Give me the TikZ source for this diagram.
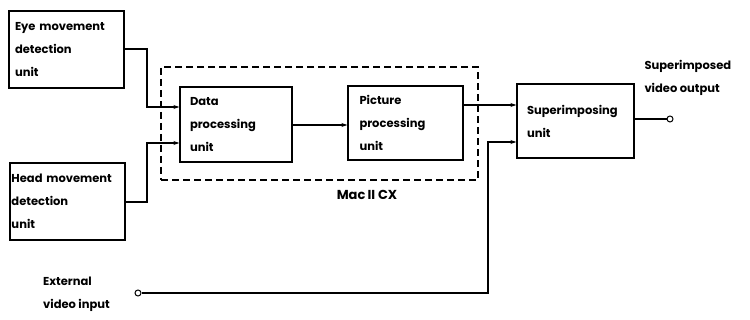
\documentclass[tikz,border=0pt]{standalone}
\usepackage{fontspec}
\setmainfont{Poppins}
\usetikzlibrary{arrows.meta,calc}
\begin{document}
\begin{tikzpicture}[x=1pt,y=-1pt,
  txt/.style={font=\fontsize{11.5}{23}\selectfont\bfseries},
  box/.style={draw,line width=1.3pt,rectangle,align=left,inner xsep=0pt,inner ysep=0pt,txt},
  wire/.style={line width=1.1pt},
  arr/.style={wire,-{Stealth[length=6pt,width=4pt]}},
  term/.style={draw,circle,line width=1pt,fill=white,minimum size=6pt,inner sep=0pt},
  grp/.style={draw,line width=1.2pt,dash pattern=on 7pt off 4pt}]
\useasboundingbox (0,0) rectangle (750,320);
% boxes
\node[box,minimum width=115pt,minimum height=77pt,text width=103pt] (eye) at (66.5,49.5) {Eye movement\\detection\\unit};
\node[box,minimum width=115pt,minimum height=77pt,text width=112pt] (head) at (67.5,201.5) {Head movement\\detection\\unit};
\node[box,minimum width=112pt,minimum height=75pt,text width=92pt] (data) at (236,124.5) {Data\\processing\\unit};
\node[box,minimum width=115pt,minimum height=74pt,text width=92pt] (pic) at (405.5,123) {Picture\\processing\\unit};
\node[box,minimum width=117pt,minimum height=74pt,text width=97pt] (sup) at (575.5,121) {Superimposing\\unit};
% group
\node[grp,minimum width=317pt,minimum height=113pt] (mac) at (319.5,123.5) {};
\node[txt,font=\fontsize{13}{15}\selectfont\bfseries,anchor=north] (maclbl) at (367,187) {Mac\,II CX};
% terminals
\node[term] (out) at (670,119) {};
\node[term] (ext) at (138,293) {};
\node[txt,align=left,anchor=south west] (outlbl) at (641,99) {Superimposed\\video output};
\node[txt,align=left,anchor=west,inner xsep=0pt] (extlbl) at (43,294) {External\\video input};
% connectors
\draw[arr] (eye.east |- 0,49) -- (147,49) |- (data.west |- 0,107);
\draw[arr] (head.east |- 0,202) -- (147,202) |- (data.west |- 0,143);
\draw[arr] (data.east |- 0,125) -- (pic.west |- 0,125);
\draw[arr] (pic.east |- 0,105) -- (sup.west |- 0,105);
\draw[arr] (ext.east) -- (488,293) |- (sup.west |- 0,142);
\draw[wire] (sup.east |- 0,119) -- (out.west);
\end{tikzpicture}
\end{document}
